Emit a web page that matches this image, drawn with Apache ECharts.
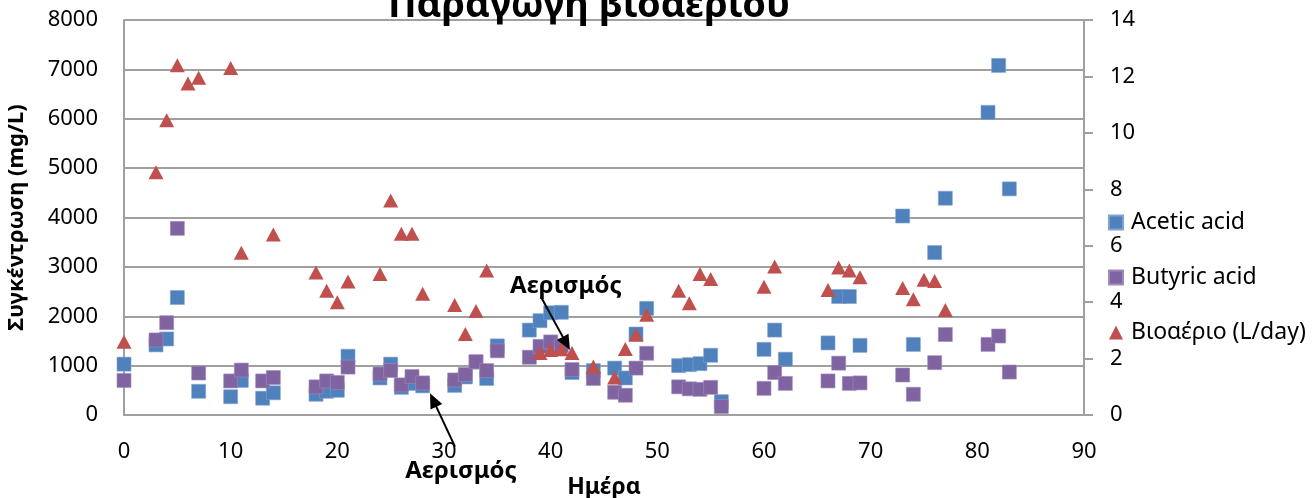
<!DOCTYPE html>
<html>
<head>
<meta charset="utf-8">
<script src="https://cdn.jsdelivr.net/npm/echarts@6/dist/echarts.min.js"></script>
<style>
  html, body { margin: 0; padding: 0; background: #ffffff; }
  #chart { width: 1315px; height: 498px; }
</style>
</head>
<body>
<div id="chart"></div>
<script>
// Sampling days for the volatile fatty acid measurements
const acidDays = [0, 3, 4, 5, 7, 10, 11, 13, 14, 18, 19, 20, 21, 24, 25, 26, 27, 28, 31, 32, 33, 34, 35,
  38, 39, 40, 41, 42, 44, 46, 47, 48, 49, 52, 53, 54, 55, 56, 60, 61, 62, 66, 67, 68, 69, 73, 74, 76, 77, 81, 82, 83];
// Acetic acid concentration (mg/L)
const aceticAcid = [1030, 1420, 1540, 2380, 480, 370, 700, 340, 450, 420, 480, 500, 1190, 750, 1030, 560, 640, 590,
  600, 770, 1070, 740, 1400, 1720, 1910, 2070, 2080, 860, 900, 950, 750, 1640, 2160, 1000, 1020, 1040, 1210, 270,
  1330, 1720, 1130, 1460, 2400, 2400, 1410, 4030, 1430, 3290, 4390, 6130, 7080, 4580];
// Butyric acid concentration (mg/L)
const butyricAcid = [700, 1520, 1870, 3780, 850, 690, 910, 690, 760, 570, 690, 660, 970, 830, 900, 610, 780, 650,
  710, 820, 1080, 900, 1300, 1170, 1390, 1480, 1400, 920, 740, 460, 400, 950, 1250, 570, 530, 520, 560, 170,
  540, 860, 640, 690, 1050, 640, 650, 810, 420, 1060, 1630, 1430, 1600, 870];
// Biogas production days and daily volume (L/day)
const biogasDays = [0, 3, 4, 5, 6, 7, 10, 11, 14, 18, 19, 20, 21, 24, 25, 26, 27, 28, 31, 32, 33, 34,
  39, 40, 41, 42, 44, 46, 47, 48, 49, 52, 53, 54, 55, 60, 61, 66, 67, 68, 69, 73, 74, 75, 76, 77];
const biogasRate = [2.6, 8.6, 10.45, 12.4, 11.75, 11.95, 12.3, 5.75, 6.4, 5.05, 4.4, 4.0, 4.73, 5.0, 7.6, 6.42, 6.42, 4.3,
  3.9, 2.87, 3.69, 5.12, 2.2, 2.3, 2.33, 2.2, 1.72, 1.33, 2.34, 2.84, 3.55, 4.4, 3.96, 5.0, 4.82, 4.55, 5.26,
  4.43, 5.23, 5.12, 4.88, 4.5, 4.1, 4.79, 4.75, 3.72];
const seriesNames = ['Acetic acid', 'Butyric acid', 'Βιοαέριο (L/day)'];

// Aeration events: label anchor and arrow (tail -> head) in (day, mg/L)
const aerationNotes = [
  { label: [41.43, 2600], tail: [39.16, 2364], head: [41.81, 1316] },
  { label: [31.6, -1134], tail: [31.03, -642], head: [28.69, 440] }
];

const FONT = 'Noto Sans';
const chart = echarts.init(document.getElementById('chart'), null, { renderer: 'canvas' });

const gridLine = { color: '#a0a0a0', width: 2 };

chart.setOption({
  animation: false,
  backgroundColor: '#ffffff',
  textStyle: { fontFamily: FONT },
  grid: { left: 124, right: 231, top: 20, bottom: 83, containLabel: false, outerBoundsMode: 'none' },
  legend: {
    orient: 'vertical',
    left: 1108,
    top: 211,
    padding: 0,
    itemWidth: 14,
    itemHeight: 14,
    itemGap: 32,
    data: seriesNames,
    textStyle: { fontFamily: FONT, fontSize: 23, color: '#000', padding: [0, 0, 0, 3] }
  },
  xAxis: {
    type: 'value',
    min: 0, max: 90, interval: 10,
    axisLine: { show: true, lineStyle: gridLine },
    axisTick: { show: false },
    splitLine: { show: false },
    axisLabel: { fontFamily: FONT, fontSize: 22, color: '#000', margin: 26 },
    name: 'Ημέρα',
    nameLocation: 'middle',
    nameGap: 61,
    nameTextStyle: { fontFamily: FONT, fontSize: 23, fontWeight: 'bold', color: '#000' }
  },
  yAxis: [
    {
      type: 'value',
      min: 0, max: 8000, interval: 1000,
      axisLine: { show: true, lineStyle: gridLine },
      axisTick: { show: false },
      splitLine: { show: true, lineStyle: gridLine },
      axisLabel: { fontFamily: FONT, fontSize: 22, color: '#000', margin: 26, formatter: v => String(v) },
      name: 'Συγκέντρωση (mg/L)',
      nameLocation: 'middle',
      nameRotate: 90,
      nameGap: 96,
      nameTextStyle: { fontFamily: FONT, fontSize: 22, fontWeight: 'bold', color: '#000' }
    },
    {
      type: 'value',
      position: 'right',
      min: 0, max: 14, interval: 2,
      axisLine: { show: true, lineStyle: gridLine },
      axisTick: { show: true, inside: false, length: 9, lineStyle: gridLine },
      splitLine: { show: false },
      axisLabel: { fontFamily: FONT, fontSize: 22, color: '#000', margin: 26 }
    }
  ],
  series: [
    {
      name: seriesNames[0],
      type: 'scatter',
      yAxisIndex: 0,
      symbol: 'rect',
      symbolSize: 14,
      itemStyle: { color: '#4F81BD', borderColor: '#7FA3D1', borderWidth: 0.6, opacity: 1 },
      data: acidDays.map((d, i) => [d, aceticAcid[i]]),
      z: 2
    },
    {
      name: seriesNames[1],
      type: 'scatter',
      yAxisIndex: 0,
      symbol: 'rect',
      symbolSize: 14,
      itemStyle: { color: '#8064A2', borderColor: '#A08CBB', borderWidth: 0.6, opacity: 1 },
      data: acidDays.map((d, i) => [d, butyricAcid[i]]),
      z: 3
    },
    {
      name: seriesNames[2],
      type: 'scatter',
      yAxisIndex: 1,
      symbol: 'triangle',
      symbolSize: [15, 14],
      itemStyle: { color: '#C0504D', opacity: 1 },
      data: biogasDays.map((d, i) => [d, biogasRate[i]]),
      z: 4
    }
  ]
});

// Chart title and aeration annotations, placed through the chart's own scales
function buildAnnotations() {
  const elements = [{
    type: 'text',
    style: {
      text: 'Παραγωγή βιοαερίου',
      x: 589, y: 6,
      textAlign: 'center',
      textVerticalAlign: 'middle',
      font: 'bold 38px "Noto Sans"',
      fill: '#000'
    },
    z: 100
  }];
  aerationNotes.forEach(note => {
    const p = chart.convertToPixel({ seriesIndex: 0 }, note.label);
    const t = chart.convertToPixel({ seriesIndex: 0 }, note.tail);
    const h = chart.convertToPixel({ seriesIndex: 0 }, note.head);
    const dx = h[0] - t[0], dy = h[1] - t[1];
    const len = Math.hypot(dx, dy);
    const ux = dx / len, uy = dy / len;
    const headLen = 15, headHalf = 6.5;
    const bx = h[0] - ux * headLen, by = h[1] - uy * headLen;
    elements.push({
      type: 'text',
      style: {
        text: 'Αερισμός',
        x: p[0], y: p[1],
        textAlign: 'center',
        textVerticalAlign: 'middle',
        font: 'bold 24px "Noto Sans"',
        fill: '#000'
      },
      z: 100
    });
    elements.push({
      type: 'line',
      shape: { x1: t[0], y1: t[1], x2: bx + ux * 2, y2: by + uy * 2 },
      style: { stroke: '#000', lineWidth: 2 },
      z: 100
    });
    elements.push({
      type: 'polygon',
      shape: {
        points: [
          [h[0], h[1]],
          [bx - uy * headHalf, by + ux * headHalf],
          [bx + uy * headHalf, by - ux * headHalf]
        ]
      },
      style: { fill: '#000' },
      z: 100
    });
  });
  chart.setOption({ graphic: elements });
}
buildAnnotations();
</script>
</body>
</html>
